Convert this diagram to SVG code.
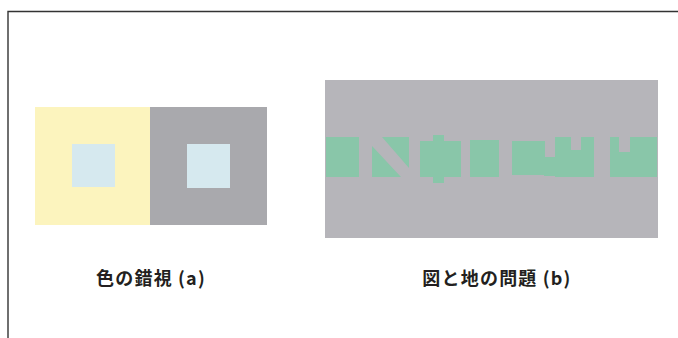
<svg xmlns="http://www.w3.org/2000/svg" width="678" height="338" viewBox="0 0 678 338">
<style>
.frame{fill:none;stroke:#333333;stroke-width:1.4}
.yel{fill:#fcf4be}
.gry{fill:#a9a9ad}
.blu{fill:#d6e9ef}
.bg2{fill:#b6b5ba}
.grn{fill:#89c6a9}
.lbl{font-family:"Noto Sans CJK JP","Noto Sans",sans-serif;font-weight:bold;font-size:18px;letter-spacing:1.2px;fill:#231f20;text-anchor:middle}
</style>
<path class="frame" d="M8,338 V11.5 H678"/>
<g id="figure-a">
  <rect class="yel" x="35" y="107" width="116" height="118"/>
  <rect class="gry" x="150" y="107" width="117" height="118"/>
  <rect class="blu" x="72" y="144" width="43" height="43"/>
  <rect class="blu" x="187" y="144" width="43" height="44"/>
</g>
<g id="figure-b">
  <rect class="bg2" x="325" y="80" width="333" height="158"/>
  <rect class="grn" x="326" y="137" width="33" height="40"/>
  <rect class="grn" x="372" y="137" width="37" height="40"/>
  <polygon class="bg2" points="372,137 382,137 409,168 409,177 401,177 372,146"/>
  <path class="grn" d="M420,141 H433 V135 H444 V141 H461 V177 H444 V183 H433 V177 H420 Z"/>
  <rect class="grn" x="470" y="140" width="29" height="37"/>
  <rect class="grn" x="512" y="141" width="33" height="34"/>
  <rect class="grn" x="544" y="157" width="12" height="19"/>
  <path class="grn" d="M555,137 H571 V150 H581 V137 H594 V177 H555 Z"/>
  <path class="grn" d="M610,137 H619 V152 H630 V137 H657 V177 H610 Z"/>
</g>
<g id="labels">
  <text class="lbl" x="151" y="285">色の錯視 (a)</text>
  <text class="lbl" x="497" y="285">図と地の問題 (b)</text>
</g>
</svg>
